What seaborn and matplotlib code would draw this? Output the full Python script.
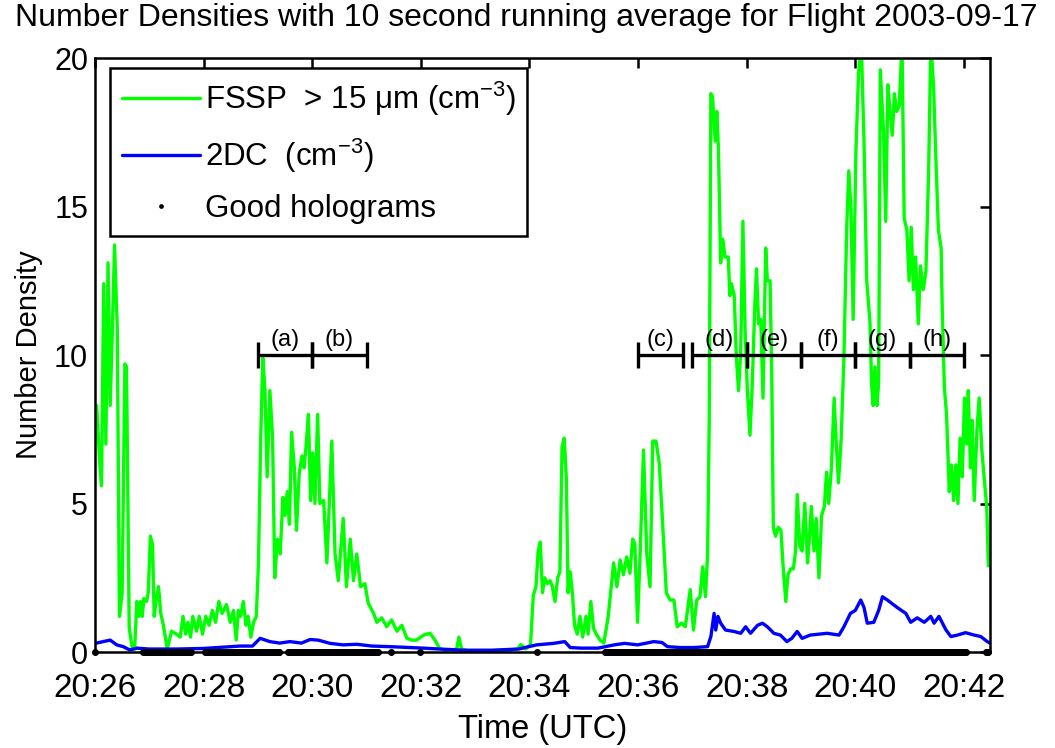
import numpy as np
import pandas as pd
import seaborn as sns
import matplotlib.pyplot as plt

# === Data (time in minutes after 20:26 UTC) ===
fssp_t = [0.03, 0.09, 0.12, 0.16, 0.20, 0.24, 0.28, 0.32, 0.36, 0.41, 0.45, 0.50, 0.55, 0.58, 0.63,
          0.69, 0.73, 0.77, 0.81, 0.84, 0.87, 0.90, 0.95, 0.98, 1.02, 1.06, 1.09, 1.13, 1.17, 1.21,
          1.26, 1.33, 1.41, 1.50, 1.57, 1.62, 1.67, 1.71, 1.76, 1.80, 1.87, 1.92, 1.98, 2.04, 2.10,
          2.16, 2.22, 2.28, 2.34, 2.42, 2.49, 2.55, 2.60, 2.64, 2.68, 2.73, 2.78, 2.82, 2.87, 2.92,
          2.97, 3.01, 3.05, 3.09, 3.13, 3.17, 3.22, 3.27, 3.31, 3.36, 3.41, 3.46, 3.50, 3.54, 3.58,
          3.62, 3.67, 3.71, 3.76, 3.81, 3.85, 3.89, 3.93, 3.97, 4.01, 4.05, 4.10, 4.14, 4.21, 4.27,
          4.36, 4.42, 4.48, 4.57, 4.63, 4.70, 4.76, 4.82, 4.89, 4.97, 5.03, 5.13, 5.19, 5.28, 5.37,
          5.46, 5.56, 5.65, 5.74, 5.83, 5.92, 6.05, 6.17, 6.26, 6.34, 6.45, 6.60, 6.66, 6.70, 6.75,
          6.85, 7.00, 7.20, 7.40, 7.60, 7.78, 7.84, 7.93, 8.02, 8.07, 8.12, 8.16, 8.20, 8.24, 8.28,
          8.33, 8.38, 8.42, 8.47, 8.52, 8.56, 8.60, 8.64, 8.68, 8.71, 8.75, 8.79, 8.83, 8.88, 8.93,
          8.98, 9.04, 9.08, 9.13, 9.18, 9.23, 9.30, 9.37, 9.45, 9.55, 9.61, 9.67, 9.73, 9.79, 9.85,
          9.90, 9.94, 9.99, 10.04, 10.10, 10.16, 10.22, 10.27, 10.33, 10.39, 10.45, 10.52, 10.59,
          10.66, 10.72, 10.80, 10.87, 10.96, 11.02, 11.08, 11.14, 11.19, 11.24, 11.28, 11.31, 11.34,
          11.37, 11.42, 11.45, 11.48, 11.52, 11.56, 11.60, 11.66, 11.69, 11.72, 11.77, 11.81, 11.85,
          11.89, 11.93, 11.97, 12.01, 12.06, 12.10, 12.15, 12.18, 12.22, 12.26, 12.30, 12.35, 12.38,
          12.43, 12.46, 12.49, 12.53, 12.58, 12.63, 12.67, 12.72, 12.76, 12.81, 12.86, 12.90, 12.93,
          12.98, 13.02, 13.07, 13.12, 13.15, 13.19, 13.24, 13.28, 13.33, 13.38, 13.43, 13.47, 13.51,
          13.56, 13.61, 13.65, 13.69, 13.74, 13.79, 13.84, 13.88, 13.92, 13.96, 14.01, 14.06, 14.11,
          14.16, 14.21, 14.27, 14.30, 14.33, 14.36, 14.40, 14.43, 14.46, 14.52, 14.56, 14.60, 14.64,
          14.68, 14.72, 14.76, 14.81, 14.86, 14.90, 14.95, 14.99, 15.03, 15.07, 15.11, 15.16, 15.20,
          15.25, 15.30, 15.35, 15.39, 15.44, 15.48, 15.53, 15.58, 15.60, 15.64, 15.68, 15.73, 15.77,
          15.81, 15.85, 15.89, 15.93, 15.97, 16.01, 16.05, 16.08, 16.12, 16.15, 16.19, 16.24, 16.28,
          16.33, 16.38, 16.42, 16.45]
fssp_n = [8.3, 6.3, 5.6, 12.4, 7.0, 13.1, 8.3, 10.9, 13.7, 10.9, 1.2, 2.0, 9.7, 9.6, 0.8,
          0.1, 0.1, 1.7, 1.2, 1.7, 1.2, 1.8, 1.7, 2.0, 3.9, 3.6, 1.2, 1.8, 2.2, 1.3,
          0.9, 0.1, 0.7, 0.6, 0.5, 1.2, 0.6, 1.0, 0.5, 1.2, 0.7, 1.2, 0.6, 1.2, 0.9,
          1.4, 1.0, 1.7, 1.3, 1.6, 1.0, 1.4, 0.4, 1.4, 1.2, 1.7, 0.9, 1.2, 0.5, 1.0,
          1.2, 3.0, 7.1, 9.9, 8.8, 5.9, 8.8, 7.2, 2.5, 3.8, 3.3, 5.2, 4.6, 5.4, 4.3,
          7.4, 6.2, 4.1, 6.0, 6.6, 6.2, 7.0, 8.0, 5.1, 6.7, 5.0, 8.0, 5.0, 5.1, 3.0,
          7.1, 3.3, 2.4, 4.5, 2.2, 3.8, 2.4, 3.3, 2.2, 2.3, 1.65, 1.3, 1.0, 1.15, 0.85,
          1.08, 0.7, 0.9, 0.47, 0.4, 0.4, 0.57, 0.63, 0.4, 0.13, 0.05, 0.08, 0.1, 0.5, 0.1,
          0.05, 0.03, 0.03, 0.05, 0.05, 0.1, 0.25, 0.1, 0.25, 1.9, 2.2, 3.4, 3.7, 2.0, 2.5,
          2.3, 2.4, 2.2, 1.7, 2.5, 2.7, 6.9, 7.2, 5.8, 2.0, 2.7, 2.0, 0.9, 0.6, 1.2,
          0.5, 1.2, 0.6, 1.7, 0.8, 0.6, 0.4, 0.3, 1.2, 3.0, 2.2, 3.1, 2.6, 3.2, 2.65,
          3.8, 3.65, 1.0, 3.4, 6.8, 3.3, 2.2, 7.1, 7.1, 6.35, 4.4, 2.0, 1.75,
          1.75, 0.85, 0.97, 0.85, 2.1, 0.74, 1.75, 1.86, 2.87, 1.86, 3.3, 7.8, 18.8,
          18.7, 17.2, 18.2, 16.9, 13.1, 13.9, 13.3, 13.3, 12.0, 12.4, 12.0, 9.9, 8.8,
          10.1, 14.5, 10.9, 8.9, 7.3, 8.9, 11.7, 12.9, 11.05, 11.2, 8.55, 13.6, 12.5,
          12.5, 9.6, 4.2, 3.9, 4.2, 4.1, 2.9, 1.7, 2.6, 2.8, 2.8, 3.4, 5.3,
          3.55, 3.4, 5.0, 3.0, 3.7, 4.9, 3.4, 4.5, 2.5, 4.6, 4.9, 6.05, 5.0,
          6.2, 8.55, 7.0, 5.7, 7.2, 9.9, 14.2, 16.2, 14.9, 11.2, 16.8, 19.5, 20.5,
          17.2, 12.5, 11.1, 9.0, 8.3, 9.6, 8.3, 9.1, 19.6, 17.5, 14.5, 19.1, 18.2,
          17.4, 18.8, 18.2, 18.4, 20.5, 14.6, 14.2, 12.5, 14.3, 12.2, 13.3, 11.05, 13.0,
          12.2, 12.8, 16.2, 20.5, 19.1, 16.8, 14.2, 13.6, 11.6, 8.9, 8.0, 5.4, 6.3,
          5.1, 6.3, 5.0, 7.2, 5.9, 8.55, 7.0, 8.8, 6.2, 7.8, 5.1, 7.5, 8.55,
          6.8, 5.7, 4.9, 2.9]

twodc_t = [0.03, 0.15, 0.28, 0.40, 0.52, 0.64, 0.77, 1.00, 1.50, 2.00, 2.67, 2.90, 3.04, 3.22,
           3.40, 3.59, 3.80, 3.96, 4.11, 4.33, 4.57, 4.82, 5.10, 5.43, 6.05, 6.35, 6.80, 7.30,
           7.80, 8.13, 8.44, 8.65, 8.75, 8.95, 9.26, 9.56, 9.75, 9.99, 10.29, 10.44, 10.54, 10.78,
           11.03, 11.28, 11.34, 11.40, 11.43, 11.47, 11.52, 11.61, 11.77, 11.89, 11.98, 12.07,
           12.20, 12.29, 12.38, 12.50, 12.62, 12.74, 12.83, 12.93, 13.02, 13.17, 13.48, 13.70,
           13.79, 13.91, 14.00, 14.10, 14.16, 14.22, 14.34, 14.43, 14.50, 14.59, 14.77, 14.93,
           15.02, 15.14, 15.27, 15.39, 15.45, 15.54, 15.67, 15.76, 15.88, 16.03, 16.19, 16.31,
           16.43, 16.48]
twodc_n = [0.3, 0.35, 0.4, 0.24, 0.18, 0.07, 0.13, 0.1, 0.1, 0.12, 0.2, 0.2, 0.46, 0.35,
           0.3, 0.35, 0.3, 0.42, 0.4, 0.29, 0.24, 0.26, 0.2, 0.18, 0.13, 0.1, 0.06, 0.06,
           0.1, 0.24, 0.29, 0.35, 0.15, 0.13, 0.13, 0.24, 0.29, 0.24, 0.35, 0.32, 0.18, 0.15,
           0.15, 0.18, 0.52, 1.3, 0.74, 1.2, 0.97, 0.74, 0.69, 0.63, 0.85, 0.63,
           0.9, 0.97, 0.85, 0.63, 0.57, 0.35, 0.46, 0.69, 0.46, 0.57, 0.63, 0.57,
           0.85, 1.3, 1.4, 1.75, 1.5, 0.97, 1.0, 1.4, 1.86, 1.75, 1.5, 1.3,
           1.0, 1.15, 1.0, 1.2, 0.97, 1.2, 0.74, 0.52, 0.57, 0.65, 0.57, 0.52,
           0.35, 0.3]

# runs of good holograms (start, end in minutes)
holo_start = [0.0, 0.89, 2.03, 3.55, 5.45, 5.99, 8.13, 9.39, 16.40]
holo_end = [0.0, 1.78, 3.40, 5.22, 5.45, 5.99, 8.13, 16.05, 16.45]

# analysed sub-periods
seg_labels = ['(a)', '(b)', '(c)', '(d)', '(e)', '(f)', '(g)', '(h)']
seg_start = [3.0, 4.0, 10.0, 11.0, 12.0, 13.0, 14.0, 15.0]
seg_end = [4.0, 5.0, 10.83, 12.0, 13.0, 14.0, 15.0, 16.0]

tick_pos = [0, 2, 4, 6, 8, 10, 12, 14, 16]
tick_labels = ['20:26', '20:28', '20:30', '20:32', '20:34', '20:36', '20:38', '20:40', '20:42']

# === Style ===
sns.set_theme(style="white")
plt.rcParams['font.family'] = ['Liberation Sans', 'DejaVu Sans']
plt.rcParams['mathtext.fontset'] = 'custom'
plt.rcParams['mathtext.rm'] = 'Liberation Sans'
plt.rcParams['mathtext.it'] = 'Liberation Sans'
for key in ['text.color', 'axes.labelcolor', 'xtick.color', 'ytick.color']:
    plt.rcParams[key] = 'black'

fig = plt.figure(figsize=(10.55, 7.48), dpi=100)
ax = fig.add_axes([95 / 1055, 96 / 748, 895 / 1055, 594 / 748])

fssp = pd.DataFrame({'t': fssp_t, 'n': fssp_n})
twodc = pd.DataFrame({'t': twodc_t, 'n': twodc_n})

sns.lineplot(data=fssp, x='t', y='n', ax=ax, color='#00ff00', lw=2.4, sort=False,
             estimator=None, label='FSSP  > 15 μm (cm$^{-3}$)')
sns.lineplot(data=twodc, x='t', y='n', ax=ax, color='#0000ff', lw=2.4, sort=False,
             estimator=None, label='2DC  (cm$^{-3}$)')

holo_t = np.concatenate([np.arange(s, e + 1e-6, 1 / 60) for s, e in zip(holo_start, holo_end)])
ax.plot(holo_t, np.zeros_like(holo_t), '.', color='black', ms=8, clip_on=False, zorder=5,
        label='Good holograms')

# interval bars
ax.hlines([10] * len(seg_start), seg_start, seg_end, color='black', lw=2.4)
ax.vlines(seg_start + seg_end, 9.55, 10.45, color='black', lw=2.4)
for lab, s, e in zip(seg_labels, seg_start, seg_end):
    ax.text((s + e) / 2, 10.5, lab, ha='center', va='center', fontsize=17)

ax.set_xlim(0, 16.48)
ax.set_ylim(0, 20)
ax.set_xticks(tick_pos)
ax.set_xticklabels(tick_labels)
ax.set_yticks([0, 5, 10, 15, 20])
ax.tick_params(direction='in', length=7, width=1.8, top=True, right=True)
ax.tick_params(axis='x', pad=15, labelsize=24)
ax.tick_params(axis='y', pad=5, labelsize=22)
for sp in ax.spines.values():
    sp.set_linewidth(1.8)
    sp.set_color('black')

ax.set_xlabel('Time (UTC)', fontsize=23.5, labelpad=7)
ax.set_ylabel('Number Density', fontsize=21, labelpad=8)
fig.text(526 / 1055, 1 - 18 / 748, 'Number Densities with 10 second running average for Flight 2003-09-17',
         ha='center', va='center', fontsize=23)

leg = ax.legend(loc='upper left', bbox_to_anchor=(0.0168, 0.983), borderaxespad=0,
                fontsize=22.5, frameon=True, fancybox=False, framealpha=1, edgecolor='black',
                handlelength=2.5, labelspacing=0.6, borderpad=0.38, handletextpad=0.15,
                markerscale=0.6)
leg.get_frame().set_linewidth(1.8)

fig.savefig('out.png', dpi=100)
